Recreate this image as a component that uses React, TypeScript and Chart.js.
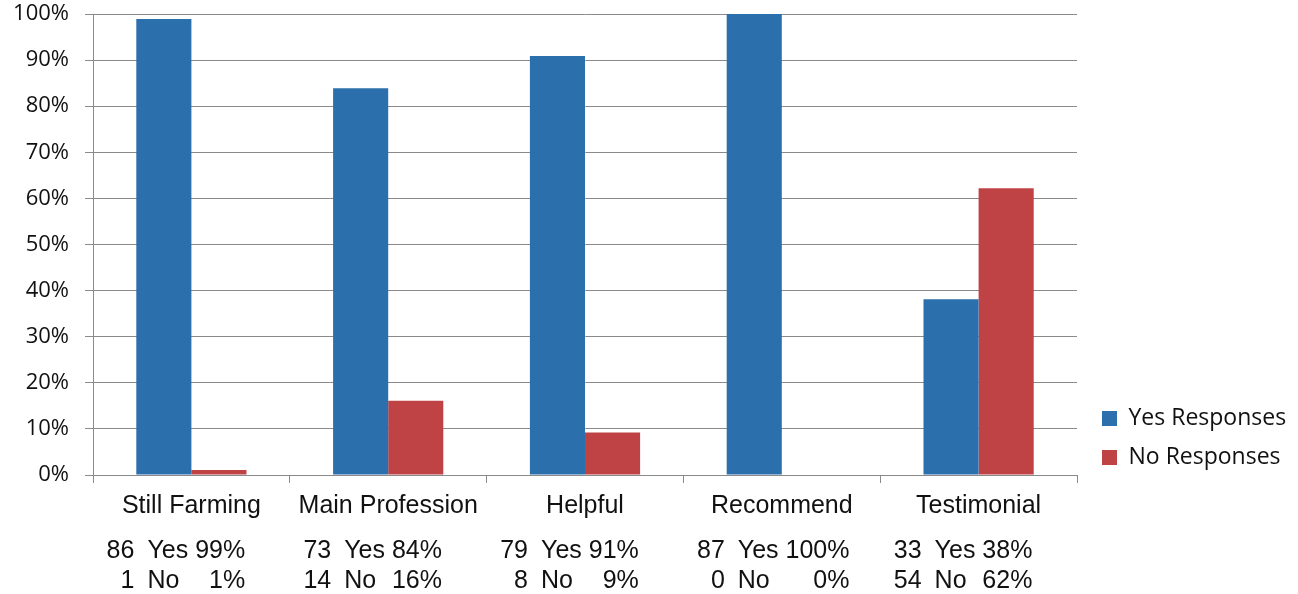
import React, { useEffect, useRef } from 'react';
import { Chart, registerables } from 'chart.js';

Chart.register(...registerables);

// ---- data ----
const categories = ['Still Farming', 'Main Profession', 'Helpful', 'Recommend', 'Testimonial'];
const seriesLabels = ['Yes Responses', 'No Responses'];
const yesValues = [98.9, 83.9, 90.9, 100, 38.1];
const noValues = [1.1, 16.1, 9.2, 0, 62.2];
const yesCounts = [86, 73, 79, 87, 33];
const noCounts = [1, 14, 8, 0, 54];
const yesPercentLabels = ['99%', '84%', '91%', '100%', '38%'];
const noPercentLabels = ['1%', '16%', '9%', '0%', '62%'];
const yesWord = 'Yes';
const noWord = 'No';

// ---- styles ----
const BLUE = '#2c6fad';
const RED = '#bf4244';
const GRID = '#8a8a8a';
const TEXT = '#111111';
const SANS = '"Liberation Sans", Arial, sans-serif';
const HUMANIST = '"Open Sans", "Noto Sans", sans-serif';

const W = 1298;
const H = 594;

const statsPlugin = {
  id: 'statsRows',
  afterDraw(chart: any) {
    const { ctx, chartArea } = chart;
    const xs = chart.scales.x;
    ctx.save();
    ctx.fillStyle = TEXT;
    ctx.font = `25px ${SANS}`;
    ctx.textBaseline = 'alphabetic';
    const row1 = chartArea.bottom + 83;
    const row2 = chartArea.bottom + 113;
    categories.forEach((_, i) => {
      const cx = xs.getPixelForValue(i);
      const numRight = cx - 57;
      const wordLeft = cx - 44;
      ctx.textAlign = 'right';
      ctx.fillText(String(yesCounts[i]), numRight, row1);
      ctx.fillText(String(noCounts[i]), numRight, row2);
      ctx.textAlign = 'left';
      ctx.fillText(yesWord, wordLeft, row1);
      ctx.fillText(noWord, wordLeft, row2);
      const pctLeft = wordLeft + ctx.measureText(yesWord + ' ').width;
      ctx.fillText(yesPercentLabels[i], pctLeft, row1);
      const pctRight = pctLeft + ctx.measureText(yesPercentLabels[i]).width;
      ctx.textAlign = 'right';
      ctx.fillText(noPercentLabels[i], pctRight, row2);
    });
    ctx.restore();
  },
};

// moves the (non-full-size) legend box a little below the chart-area bottom
const legendNudge = {
  id: 'legendNudge',
  afterLayout(chart: any) {
    const l = chart.legend;
    if (l) {
      l.top += 10;
      l.bottom += 10;
    }
  },
};

export default function App() {
  const ref = useRef<HTMLCanvasElement>(null);

  useEffect(() => {
    document.body.style.margin = '0';
    const canvas = ref.current;
    if (!canvas) return;

    const legendFontSize = 23;
    const legendBox = 15;
    const legendPad = 16;
    const m = document.createElement('canvas').getContext('2d')!;
    m.font = `${legendFontSize}px ${HUMANIST}`;
    const textW = Math.max(...seriesLabels.map((s) => m.measureText(s).width));
    const legendWidth = legendPad + legendBox + legendFontSize / 2 + textW + 10;
    const legendLeft = 1086;
    const rightPad = Math.max(0, W - legendLeft - legendWidth);

    const chart = new Chart(canvas, {
      type: 'bar',
      data: {
        labels: categories,
        datasets: [
          {
            label: seriesLabels[0],
            data: yesValues,
            backgroundColor: BLUE,
            borderWidth: 0,
            barPercentage: 1,
            categoryPercentage: 0.56,
          },
          {
            label: seriesLabels[1],
            data: noValues,
            backgroundColor: RED,
            borderWidth: 0,
            barPercentage: 1,
            categoryPercentage: 0.56,
          },
        ],
      },
      options: {
        responsive: false,
        animation: false,
        devicePixelRatio: 1,
        layout: { padding: { top: 0, bottom: 69, left: 0, right: rightPad } },
        plugins: {
          legend: {
            position: 'right',
            align: 'end',
            fullSize: false,
            labels: {
              color: TEXT,
              font: { family: HUMANIST, size: legendFontSize },
              boxWidth: legendBox,
              boxHeight: legendBox,
              padding: legendPad,
            },
          },
          tooltip: { enabled: false },
        },
        scales: {
          x: {
            grid: {
              offset: true,
              drawOnChartArea: false,
              drawTicks: true,
              tickLength: 8,
              color: GRID,
              lineWidth: 1,
            },
            border: { color: GRID, width: 1 },
            ticks: {
              color: TEXT,
              font: { family: SANS, size: 25 },
              padding: 8,
              maxRotation: 0,
              autoSkip: false,
            },
            afterFit: (s: any) => {
              s.height = 50;
            },
          },
          y: {
            min: 0,
            max: 100,
            grid: { color: GRID, lineWidth: 1, tickLength: 8, drawTicks: true },
            border: { color: GRID, width: 1 },
            ticks: {
              stepSize: 10,
              color: TEXT,
              font: { family: HUMANIST, size: 22 },
              padding: 16,
              callback: (v: any) => `${v}%`,
            },
            afterFit: (s: any) => {
              s.width = 93;
              s.paddingTop = 14;
            },
          },
          spacer: {
            type: 'linear',
            position: 'right',
            display: true,
            grid: { display: false },
            border: { display: false },
            ticks: { display: false },
            afterFit: (s: any) => {
              s.width = 9;
            },
          },
        },
      } as any,
      plugins: [statsPlugin, legendNudge],
    });

    return () => chart.destroy();
  }, []);

  return (
    <div style={{ width: W, height: H, background: '#fff' }}>
      <canvas ref={ref} width={W} height={H} style={{ display: 'block' }} />
    </div>
  );
}
